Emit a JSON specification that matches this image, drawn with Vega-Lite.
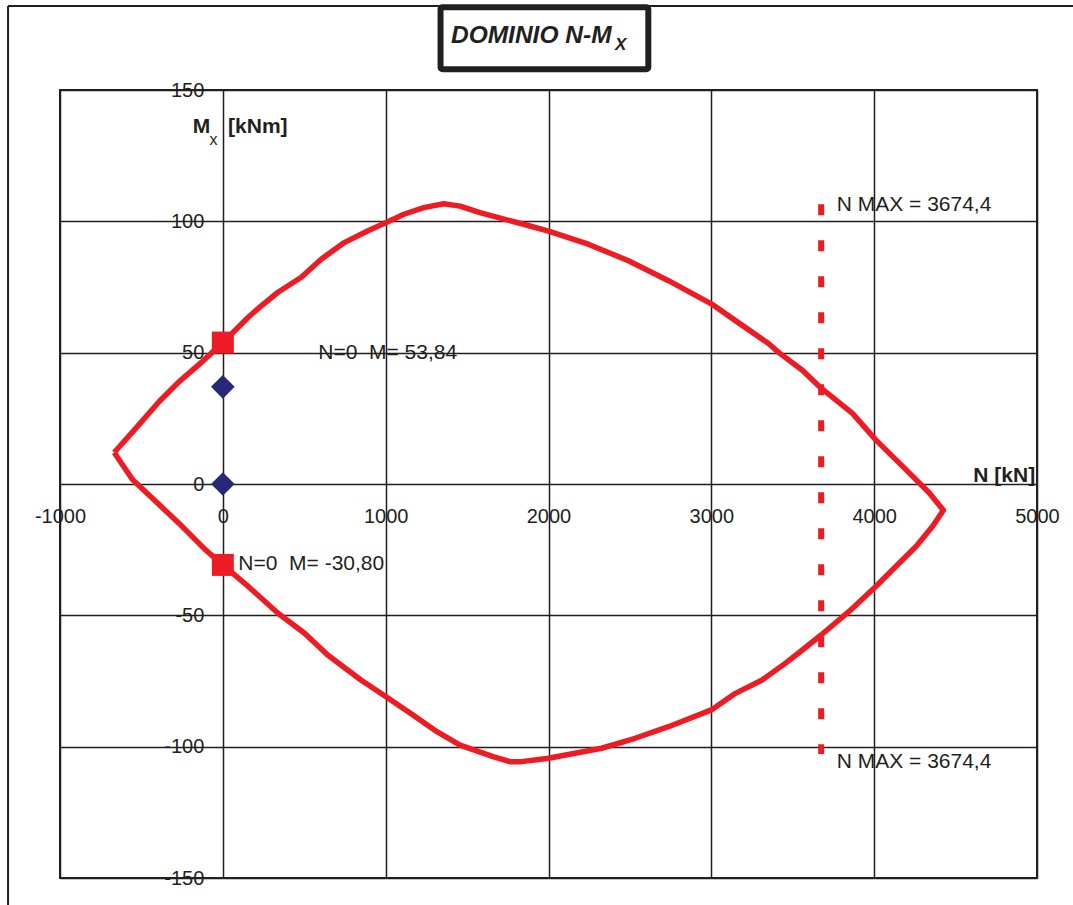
{
  "$schema": "https://vega.github.io/schema/vega-lite/v6.json",
  "width": 977,
  "height": 788,
  "autosize": {"type": "none"},
  "padding": {"left": 60, "top": 90, "right": 36, "bottom": 27},
  "background": "white",
  "config": {
    "view": {"stroke": "#231f20", "strokeWidth": 2},
    "font": "Liberation Sans"
  },
  "datasets": {
    "curve": [
      {"i": 0, "N": -667, "M": 12.0},
      {"i": 1, "N": -535, "M": 21.2},
      {"i": 2, "N": -392, "M": 31.3},
      {"i": 3, "N": -270, "M": 38.9},
      {"i": 4, "N": -128, "M": 46.5},
      {"i": 5, "N": 0, "M": 53.84},
      {"i": 6, "N": 156, "M": 63.5},
      {"i": 7, "N": 238, "M": 67.9},
      {"i": 8, "N": 339, "M": 73.0},
      {"i": 9, "N": 482, "M": 78.7},
      {"i": 10, "N": 604, "M": 85.6},
      {"i": 11, "N": 746, "M": 91.9},
      {"i": 12, "N": 888, "M": 96.3},
      {"i": 13, "N": 1000, "M": 99.5},
      {"i": 14, "N": 1112, "M": 102.7},
      {"i": 15, "N": 1234, "M": 105.2},
      {"i": 16, "N": 1356, "M": 106.7},
      {"i": 17, "N": 1457, "M": 105.8},
      {"i": 18, "N": 1579, "M": 103.3},
      {"i": 19, "N": 1710, "M": 101.1},
      {"i": 20, "N": 1864, "M": 98.6},
      {"i": 21, "N": 2000, "M": 96.3},
      {"i": 22, "N": 2244, "M": 91.3},
      {"i": 23, "N": 2491, "M": 85.0},
      {"i": 24, "N": 2737, "M": 77.4},
      {"i": 25, "N": 3000, "M": 68.6},
      {"i": 26, "N": 3148, "M": 62.2},
      {"i": 27, "N": 3353, "M": 53.4},
      {"i": 28, "N": 3415, "M": 50.0},
      {"i": 29, "N": 3559, "M": 43.3},
      {"i": 30, "N": 3676, "M": 36.4},
      {"i": 31, "N": 3867, "M": 26.9},
      {"i": 32, "N": 4010, "M": 16.8},
      {"i": 33, "N": 4175, "M": 6.7},
      {"i": 34, "N": 4339, "M": -3.4},
      {"i": 35, "N": 4425, "M": -10.0},
      {"i": 36, "N": 4359, "M": -16.1},
      {"i": 37, "N": 4257, "M": -23.8},
      {"i": 38, "N": 4133, "M": -31.4},
      {"i": 39, "N": 4010, "M": -39.0},
      {"i": 40, "N": 3846, "M": -48.5},
      {"i": 41, "N": 3676, "M": -57.4},
      {"i": 42, "N": 3559, "M": -63.2},
      {"i": 43, "N": 3456, "M": -68.2},
      {"i": 44, "N": 3312, "M": -74.6},
      {"i": 45, "N": 3148, "M": -79.7},
      {"i": 46, "N": 3000, "M": -86.0},
      {"i": 47, "N": 2737, "M": -92.4},
      {"i": 48, "N": 2532, "M": -96.8},
      {"i": 49, "N": 2326, "M": -100.6},
      {"i": 50, "N": 2000, "M": -104.4},
      {"i": 51, "N": 1834, "M": -105.7},
      {"i": 52, "N": 1762, "M": -105.7},
      {"i": 53, "N": 1660, "M": -103.8},
      {"i": 54, "N": 1457, "M": -99.4},
      {"i": 55, "N": 1315, "M": -94.3},
      {"i": 56, "N": 1152, "M": -87.3},
      {"i": 57, "N": 1000, "M": -80.9},
      {"i": 58, "N": 848, "M": -74.6},
      {"i": 59, "N": 644, "M": -65.1},
      {"i": 60, "N": 502, "M": -56.8},
      {"i": 61, "N": 339, "M": -49.2},
      {"i": 62, "N": 156, "M": -39.0},
      {"i": 63, "N": 0, "M": -30.8},
      {"i": 64, "N": -108, "M": -25.0},
      {"i": 65, "N": -270, "M": -14.9},
      {"i": 66, "N": -413, "M": -6.6},
      {"i": 67, "N": -555, "M": 1.7},
      {"i": 68, "N": -667, "M": 12.0}
    ],
    "diamonds": [
      {"N": 0, "M": 37},
      {"N": 0, "M": 0}
    ],
    "squares": [
      {"N": 0, "M": 53.84},
      {"N": 0, "M": -30.8}
    ],
    "nmax": [
      {"N": 3674.4, "M": 106.5, "M2": -102.8}
    ],
    "labels": [
      {"N": 586, "M": 50.0, "text": "N=0\u00a0\u00a0M= 53,84"},
      {"N": 95, "M": -30.5, "text": "N=0\u00a0\u00a0M= -30,80"},
      {"N": 3770, "M": 106.2, "text": "N MAX = 3674,4"},
      {"N": 3770, "M": -105.7, "text": "N MAX = 3674,4"}
    ],
    "axisTitles": [
      {"N": -185, "M": 133.5, "text": "M"},
      {"N": 32, "M": 133.5, "text": "[kNm]"},
      {"N": 4609, "M": 0.9, "text": "N [kN]"}
    ],
    "axisSub": [
      {"N": -82, "M": 129.1, "text": "x"}
    ],
    "frameLeft": [
      {"N": -1319, "M": 182, "M2": -170}
    ],
    "frameTop": [
      {"N": -1319, "N2": 5400, "M": 182}
    ],
    "titleBox": [
      {"N": 1337, "N2": 2613, "M": 181.5, "M2": 157.9}
    ],
    "titleMain": [
      {"N": 1401, "M": 167.8, "text": "DOMINIO N-M"}
    ],
    "titleSub": [
      {"N": 2409, "M": 165.3, "text": "X"}
    ]
  },
  "encoding": {
    "x": {
      "field": "N",
      "type": "quantitative",
      "scale": {"domain": [-1000, 5000], "nice": false, "zero": false},
      "axis": {
        "values": [-1000, 0, 1000, 2000, 3000, 4000, 5000],
        "labelExpr": "'' + datum.value",
        "offset": -394,
        "domain": false,
        "ticks": false,
        "labelPadding": 22,
        "labelFlush": false,
        "labelOverlap": false,
        "labelBound": false,
        "title": null,
        "grid": true,
        "gridColor": "#231f20",
        "gridWidth": 1.5,
        "gridOpacity": 1,
        "labelFontSize": 20,
        "labelColor": "#231f20",
        "labelFont": "Liberation Sans"
      }
    },
    "y": {
      "field": "M",
      "type": "quantitative",
      "scale": {"domain": [-150, 150], "nice": false, "zero": false},
      "axis": {
        "values": [-150, -100, -50, 0, 50, 100, 150],
        "labelExpr": "'' + datum.value",
        "offset": -162.8,
        "domain": false,
        "ticks": false,
        "labelPadding": 19,
        "labelFlush": false,
        "labelOverlap": false,
        "labelBound": false,
        "title": null,
        "grid": true,
        "gridColor": "#231f20",
        "gridWidth": 1.5,
        "gridOpacity": 1,
        "labelFontSize": 20,
        "labelColor": "#231f20",
        "labelFont": "Liberation Sans"
      }
    }
  },
  "layer": [
    {
      "data": {"name": "frameLeft"},
      "mark": {"type": "rule", "stroke": "#231f20", "strokeWidth": 2},
      "encoding": {"y2": {"field": "M2"}}
    },
    {
      "data": {"name": "frameTop"},
      "mark": {"type": "rule", "stroke": "#231f20", "strokeWidth": 2},
      "encoding": {"x2": {"field": "N2"}}
    },
    {
      "data": {"name": "titleBox"},
      "mark": {"type": "rect", "fill": "white", "stroke": "#231f20", "strokeWidth": 6, "cornerRadius": 2},
      "encoding": {"x2": {"field": "N2"}, "y2": {"field": "M2"}}
    },
    {
      "data": {"name": "curve"},
      "mark": {"type": "line", "color": "#ed1c24", "strokeWidth": 5.5, "strokeJoin": "round"},
      "encoding": {"order": {"field": "i", "type": "quantitative"}}
    },
    {
      "data": {"name": "nmax"},
      "mark": {"type": "rule", "color": "#ed1c24", "strokeWidth": 6, "strokeDash": [11, 25], "strokeCap": "butt"},
      "encoding": {"y2": {"field": "M2"}}
    },
    {
      "data": {"name": "diamonds"},
      "mark": {"type": "point", "shape": "diamond", "filled": true, "size": 560, "color": "#262878", "opacity": 1},
      "encoding": {}
    },
    {
      "data": {"name": "squares"},
      "mark": {"type": "point", "shape": "square", "filled": true, "size": 484, "color": "#ed1c24", "opacity": 1},
      "encoding": {}
    },
    {
      "data": {"name": "labels"},
      "mark": {"type": "text", "align": "left", "baseline": "middle", "fontSize": 21, "color": "#231f20", "font": "Liberation Sans"},
      "encoding": {"text": {"field": "text"}}
    },
    {
      "data": {"name": "axisTitles"},
      "mark": {"type": "text", "align": "left", "baseline": "alphabetic", "fontSize": 21, "fontWeight": "bold", "color": "#231f20", "font": "Liberation Sans"},
      "encoding": {"text": {"field": "text"}}
    },
    {
      "data": {"name": "axisSub"},
      "mark": {"type": "text", "align": "left", "baseline": "alphabetic", "fontSize": 16, "color": "#231f20", "font": "Liberation Sans"},
      "encoding": {"text": {"field": "text"}}
    },
    {
      "data": {"name": "titleMain"},
      "mark": {"type": "text", "align": "left", "baseline": "alphabetic", "fontSize": 24.5, "fontWeight": "bold", "fontStyle": "italic", "color": "#231f20", "font": "Liberation Sans"},
      "encoding": {"text": {"field": "text"}}
    },
    {
      "data": {"name": "titleSub"},
      "mark": {"type": "text", "align": "left", "baseline": "alphabetic", "fontSize": 17, "fontWeight": "bold", "fontStyle": "italic", "color": "#231f20", "font": "Liberation Sans"},
      "encoding": {"text": {"field": "text"}}
    }
  ]
}
